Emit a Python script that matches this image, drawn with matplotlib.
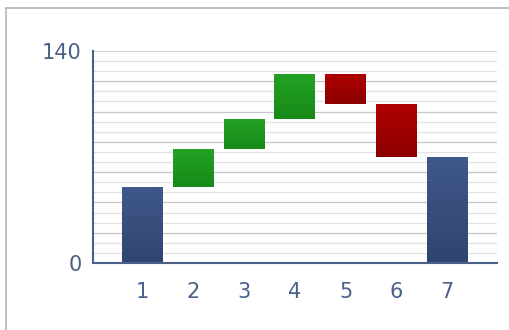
import numpy as np
import matplotlib
matplotlib.use("Agg")
import matplotlib.pyplot as plt
from matplotlib.lines import Line2D
from matplotlib.colors import LinearSegmentedColormap

categories = [1, 2, 3, 4, 5, 6, 7]
start_value = 50
changes = [25, 20, 30, -20, -35]
total_value = 70

# waterfall geometry from data
levels = np.concatenate([[start_value], start_value + np.cumsum(changes)])
bottoms = [0] + [min(levels[i], levels[i + 1]) for i in range(len(changes))] + [0]
heights = [start_value] + [abs(c) for c in changes] + [total_value]
kinds = ["total"] + ["up" if c > 0 else "down" for c in changes] + ["total"]

grad = {
    "total": ("#40588a", "#2f4570"),
    "up": ("#24a224", "#178a17"),
    "down": ("#b00000", "#8c0000"),
}

fig = plt.figure(figsize=(5.09, 3.30), dpi=100)
ax = fig.add_axes([93 / 509, 1 - 263 / 330, (497 - 93) / 509, (263 - 51) / 330])

# gridlines: minor every 20/3, major every 20
for y in np.arange(1, 21) * 20 / 3:
    major = abs(y / 20 - round(y / 20)) < 1e-6
    ax.axhline(y, color="#c6c6c6" if major else "#e2e2e2", lw=0.9, zorder=0)
ax.axhline(140, color="#d6d6d6", lw=0.9, zorder=0)

bars = ax.bar(categories, heights, bottom=bottoms, width=0.8, zorder=2,
              color=[grad[k][0] for k in kinds], edgecolor="none")
for b, k in zip(bars, kinds):
    cmap = LinearSegmentedColormap.from_list(k, [grad[k][1], grad[k][0]])
    x0, y0 = b.get_x(), b.get_y()
    img = ax.imshow(np.linspace(0, 1, 64).reshape(-1, 1), cmap=cmap, origin="lower",
                    extent=[x0, x0 + b.get_width(), y0, y0 + b.get_height()],
                    aspect="auto", zorder=3)
    img.set_clip_path(b)
ax.set_xlim(0.03, 7.98)
ax.set_ylim(0, 140)

for s in ["top", "right"]:
    ax.spines[s].set_visible(False)
for s in ["left", "bottom"]:
    ax.spines[s].set_color("#4a6088")
    ax.spines[s].set_linewidth(1.5)
    ax.spines[s].set_zorder(4)

ax.set_yticks([0, 140])
ax.set_xticks(categories)
ax.tick_params(length=0, colors="#4a6088", labelsize=15)
ax.tick_params(axis="x", pad=14)
ax.tick_params(axis="y", pad=8)

# outer frame
fig.add_artist(Line2D([6 / 509, 6 / 509], [0, 1 - 8 / 330], color="#b5b5b5", lw=1.2))
fig.add_artist(Line2D([6 / 509, 1], [1 - 8 / 330, 1 - 8 / 330], color="#b5b5b5", lw=1.2))

fig.savefig("out.png", dpi=100)
